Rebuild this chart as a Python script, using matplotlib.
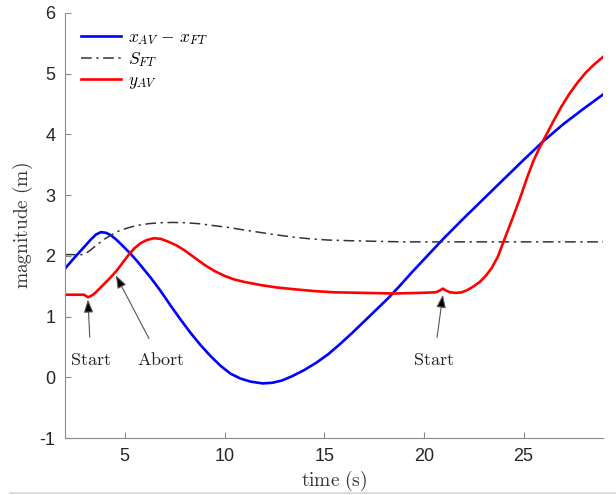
import matplotlib
matplotlib.use("Agg")
import matplotlib.pyplot as plt
from matplotlib.lines import Line2D

plt.rcParams.update({
    "font.family": "Liberation Sans",
    "mathtext.fontset": "cm",
    "axes.unicode_minus": False,
    "axes.edgecolor": "#8a8a8a",
    "xtick.color": "#8a8a8a", "ytick.color": "#8a8a8a",
    "xtick.labelcolor": "#262626", "ytick.labelcolor": "#262626",
})

# x_AV - x_FT (blue)
t_dx = [2.0, 2.5, 3.0, 3.3, 3.55, 3.8, 4.05, 4.3, 4.6, 5.0, 5.3, 5.6, 5.9,
        6.3, 6.8, 7.3, 7.8, 8.3, 8.8, 9.3, 9.8, 10.3, 10.8, 11.3, 11.9, 12.4,
        12.9, 13.4, 14.0, 14.6, 15.2, 15.8, 16.4, 17.0, 17.6, 18.2, 18.8, 19.4,
        20.0, 21.0, 22.0, 23.0, 24.0, 25.0, 26.0, 27.0, 28.0, 29.0]
dx = [1.79, 1.98, 2.16, 2.27, 2.35, 2.39, 2.38, 2.34, 2.26, 2.13, 2.03, 1.92,
      1.80, 1.64, 1.42, 1.18, 0.95, 0.73, 0.53, 0.35, 0.19, 0.06, -0.02, -0.07,
      -0.10, -0.09, -0.05, 0.02, 0.12, 0.24, 0.38, 0.55, 0.73, 0.92, 1.11,
      1.30, 1.51, 1.73, 1.94, 2.29, 2.62, 2.94, 3.26, 3.58, 3.89, 4.17, 4.42,
      4.66]

# S_FT (black dash-dot)
t_s = [2.0, 2.9, 3.0, 3.3, 3.6, 3.95, 4.3, 4.7, 5.15, 5.6, 6.2, 6.8, 7.4, 8.0,
       8.7, 9.4, 10.15, 10.9, 11.7, 12.5, 13.4, 14.3, 15.2, 16.2, 17.5, 19.0,
       22.0, 25.0, 29.0]
s_ft = [2.02, 2.02, 2.03, 2.10, 2.18, 2.27, 2.34, 2.41, 2.46, 2.50, 2.53,
        2.545, 2.55, 2.545, 2.53, 2.50, 2.47, 2.43, 2.39, 2.35, 2.31, 2.28,
        2.26, 2.25, 2.24, 2.23, 2.23, 2.23, 2.23]

# y_AV (red)
t_y = [2.0, 2.95, 3.05, 3.15, 3.25, 3.45, 3.7, 4.0, 4.3, 4.6, 4.9, 5.2, 5.5,
       5.8, 6.1, 6.45, 6.8, 7.2, 7.6, 8.0, 8.5, 9.0, 9.5, 10.0, 10.5, 11.0,
       11.8, 12.6, 13.5, 14.5, 15.5, 17.0, 18.5, 19.8, 20.6, 20.8, 20.95, 21.1,
       21.3, 21.6, 21.9, 22.2, 22.5, 22.8, 23.1, 23.4, 23.7, 24.0, 24.4, 24.8,
       25.2, 25.5, 25.8, 26.1, 26.5, 26.9, 27.3, 27.7, 28.1, 28.5, 29.0]
y_av = [1.36, 1.36, 1.34, 1.32, 1.33, 1.37, 1.45, 1.55, 1.65, 1.76, 1.89, 2.02,
        2.13, 2.21, 2.26, 2.29, 2.28, 2.23, 2.17, 2.09, 1.97, 1.85, 1.75, 1.67,
        1.61, 1.57, 1.52, 1.48, 1.45, 1.42, 1.40, 1.39, 1.38, 1.39, 1.40, 1.43,
        1.46, 1.43, 1.40, 1.39, 1.40, 1.44, 1.50, 1.57, 1.67, 1.80, 1.98, 2.24,
        2.58, 2.93, 3.31, 3.57, 3.78, 3.97, 4.22, 4.46, 4.67, 4.85, 5.01, 5.14,
        5.28]

# annotations: label, arrow tip, text position
notes = [("Start", (3.15, 1.28), (3.3, 0.27)),
         ("Abort", (4.55, 1.68), (6.8, 0.27)),
         ("Start", (20.95, 1.36), (20.5, 0.27))]

fig = plt.figure(figsize=(6.16, 4.95), dpi=100)
ax = fig.add_axes([0.1055, 0.115, 0.874, 0.859])

ax.plot(t_dx, dx, color="#0000ff", lw=1.9, label=r"$x_{AV}\,-\,x_{FT}$")
ax.plot(t_s, s_ft, color="#333333", lw=1.1, ls=(0, (7, 3, 1.5, 3)), label=r"$S_{FT}$")
ax.plot(t_y, y_av, color="#ff0000", lw=1.9, label=r"$y_{AV}$")

for txt, tip, pos in notes:
    ax.annotate(r"$\mathrm{%s}$" % txt, xy=tip, xytext=pos, ha="center", va="center",
                fontsize=13, color="#222222",
                arrowprops=dict(arrowstyle="-|>,head_length=0.6,head_width=0.22",
                                fc="black", ec="#555555", lw=0.8, shrinkA=9, shrinkB=0))

ax.set_xlim(2, 29)
ax.set_ylim(-1, 6)
ax.set_xticks([5, 10, 15, 20, 25])
ax.set_yticks(range(-1, 7))
ax.tick_params(direction="in", length=4, width=0.8, labelsize=13, pad=7)
for s in ("top", "right"):
    ax.spines[s].set_visible(False)
ax.set_xlabel(r"$\mathrm{time\ (s)}$", fontsize=14, color="#333333", labelpad=3)
ax.set_ylabel(r"$\mathrm{magnitude\ (m)}$", fontsize=14, color="#333333")
ax.yaxis.set_label_coords(-0.056, 0.5)

ax.legend(loc="upper left", bbox_to_anchor=(0.01, 0.985), frameon=False,
          fontsize=12.5, handlelength=2.3, handletextpad=0.4, labelspacing=0.2,
          borderaxespad=0.2)

fig.add_artist(Line2D([0.016, 1.0], [0.004, 0.004], color="#d6d6d6", lw=1.2))

fig.savefig("out.png", dpi=100)
